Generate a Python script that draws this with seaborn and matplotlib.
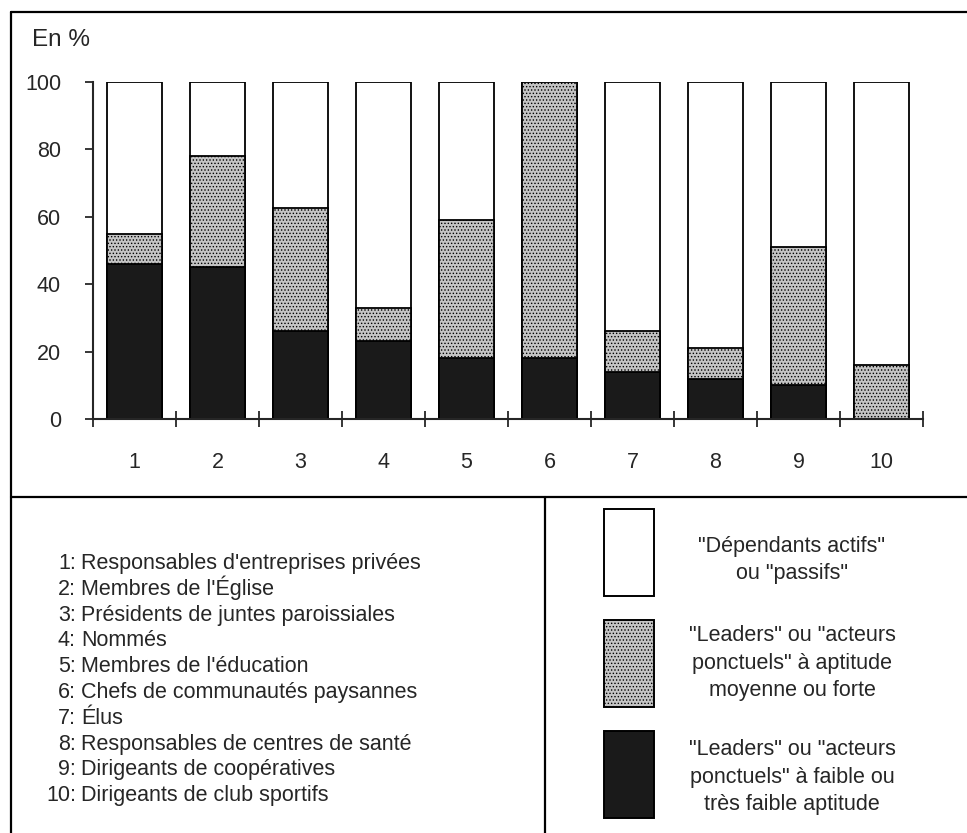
# %% Library imports

import pandas as pd
import seaborn as sns
import matplotlib.pyplot as plt
from matplotlib.patches import Rectangle
from matplotlib.lines import Line2D
from matplotlib.ticker import FixedLocator

# %% Data

categories = ['1', '2', '3', '4', '5', '6', '7', '8', '9', '10']
# "Leaders" ou "acteurs ponctuels" a faible ou tres faible aptitude
share_low = [46, 45, 26, 23, 18, 18, 14, 12, 10, 0]
# "Leaders" ou "acteurs ponctuels" a aptitude moyenne ou forte
share_mid = [9, 33, 36.5, 10, 41, 82, 12, 9, 41, 16]
# "Dependants actifs" ou "passifs"
share_dep = [45, 22, 37.5, 67, 41, 0, 74, 79, 49, 84]

groups = [
    "Responsables d'entreprises privées",
    "Membres de l'Église",
    "Présidents de juntes paroissiales",
    "Nommés",
    "Membres de l'éducation",
    "Chefs de communautés paysannes",
    "Élus",
    "Responsables de centres de santé",
    "Dirigeants de coopératives",
    "Dirigeants de club sportifs",
]

legend_labels = [
    '"Dépendants actifs"\nou "passifs"',
    '"Leaders" ou "acteurs\nponctuels" à aptitude\nmoyenne ou forte',
    '"Leaders" ou "acteurs\nponctuels" à faible ou\ntrès faible aptitude',
]

df = pd.DataFrame({'groupe': categories, 'low': share_low,
                   'mid': share_mid, 'dep': share_dep})
df['cum_mid'] = df['low'] + df['mid']
df['cum_all'] = df['cum_mid'] + df['dep']

# %% Style

sns.set_style("white")
plt.rcParams['font.family'] = ['Liberation Sans', 'DejaVu Sans']
plt.rcParams['hatch.linewidth'] = 0.6

W, H = 967, 833
c_white, c_grey, c_dark = 'white', '#c4c4c4', '#1a1a1a'
grey_hatch = '.....'
txt_size = 15.5


def fx(px):
    return px / W


def fy(py):
    return 1 - py / H


fig = plt.figure(figsize=(9.67, 8.33), dpi=100)
ax = fig.add_axes([fx(93), fy(419), fx(923 - 93), (419 - 82) / H])

# %% Stacked bars, drawn back to front

bar_kw = dict(width=0.67, edgecolor='black', linewidth=1.3,
              saturation=1, ax=ax)
sns.barplot(data=df, x='groupe', y='cum_all', color=c_white, **bar_kw)
n_before = len(ax.patches)
sns.barplot(data=df, x='groupe', y='cum_mid', color=c_grey, **bar_kw)
for p in ax.patches[n_before:]:
    p.set_hatch(grey_hatch)
sns.barplot(data=df, x='groupe', y='low', color=c_dark, **bar_kw)

# %% Axes cosmetics

ax.set_xlim(-0.5, 9.5)
ax.set_ylim(0, 100)
ax.set_xlabel('')
ax.set_ylabel('')
for s in ['top', 'right']:
    ax.spines[s].set_visible(False)
ax.spines['left'].set_linewidth(1.5)
ax.spines['bottom'].set_linewidth(1.5)

ax.set_yticks([0, 20, 40, 60, 80, 100])
ax.tick_params(axis='y', direction='out', length=6, width=1.3,
               pad=17, labelsize=15.5, left=True)
ax.tick_params(axis='x', which='major', length=0, pad=24, labelsize=15.5)
ax.xaxis.set_minor_locator(FixedLocator([i - 0.5 for i in range(11)]))
ax.tick_params(axis='x', which='minor', direction='inout', length=12,
               width=1.3, bottom=True)

fig.text(fx(32), fy(40), 'En %', fontsize=17.5, va='center', ha='left')

# %% Frame around the figure

frame_kw = dict(color='black', linewidth=1.6, transform=fig.transFigure)
fig.add_artist(Line2D([fx(11), fx(11)], [fy(12), 0], **frame_kw))
fig.add_artist(Line2D([fx(11), 1], [fy(12), fy(12)], **frame_kw))
fig.add_artist(Line2D([fx(11), 1], [fy(497), fy(497)], **frame_kw))
fig.add_artist(Line2D([fx(545), fx(545)], [fy(497), 0], **frame_kw))

# %% Group legend (left box)

for i, name in enumerate(groups):
    y = fy(569 + i * 25.8)
    fig.text(fx(76), y, f'{i + 1}:', fontsize=txt_size, ha='right',
             va='baseline')
    fig.text(fx(81), y, name, fontsize=txt_size, ha='left', va='baseline')

# %% Pattern legend (right box)

box_tops = [509, 620, 731]
box_fill = [(c_white, None), (c_grey, grey_hatch), (c_dark, None)]
text_y = [560, 663, 777]
for top, (fc, hatch), ty, lab in zip(box_tops, box_fill, text_y,
                                     legend_labels):
    fig.add_artist(Rectangle((fx(604), fy(top + 87)), fx(50), 87 / H,
                             facecolor=fc, edgecolor='black',
                             linewidth=1.4, hatch=hatch,
                             transform=fig.transFigure))
    fig.text(fx(792), fy(ty), lab, fontsize=txt_size, ha='center',
             va='center', linespacing=1.4)

plt.savefig('out.png', dpi=100)
